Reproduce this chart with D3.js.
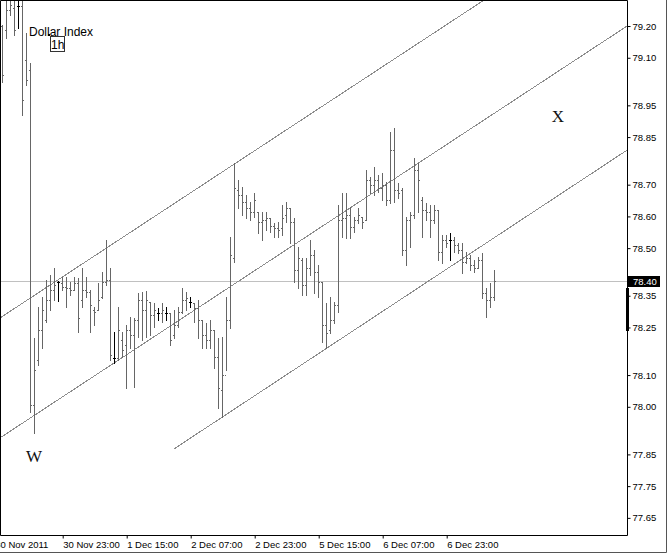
<!DOCTYPE html>
<html><head><meta charset="utf-8">
<script src="https://cdn.jsdelivr.net/npm/d3@7"></script>
<style>body{margin:0;background:#fff;overflow:hidden}svg{display:block}</style>
</head><body><svg id="c" width="668" height="554"></svg>
<script>
// Dollar Index, 1h OHLC bars (index 0 = 30 Nov 2011 08:00)
const openP = [79.200,79.187,79.250,79.257,79.263,79.263,79.093,79.061,78.006,78.148,
78.242,78.274,78.337,78.368,78.393,78.390,78.378,78.375,78.368,78.390,
78.337,78.368,78.362,78.305,78.305,78.346,78.393,78.400,78.154,78.154,
78.211,78.195,78.242,78.226,78.274,78.337,78.305,78.330,78.289,78.296,
78.296,78.296,78.296,78.226,78.258,78.299,78.337,78.330,78.327,78.311,
78.274,78.226,78.211,78.242,78.157,78.053,78.100,78.274,78.469,78.683,
78.668,78.645,78.627,78.614,78.614,78.582,78.589,78.595,78.570,78.564,
78.564,78.605,78.627,78.582,78.431,78.463,78.384,78.438,78.478,78.425,
78.393,78.258,78.242,78.274,78.321,78.589,78.595,78.605,78.567,78.589,
78.598,78.589,78.715,78.699,78.715,78.690,78.699,78.652,78.809,78.683,
78.683,78.494,78.589,78.605,78.746,78.652,78.620,78.614,78.589,78.620,
78.488,78.526,78.526,78.526,78.510,78.494,78.456,78.469,78.447,78.438,
78.463,78.359,78.337,78.346];
const highP = [79.203,79.314,79.329,79.314,79.298,79.298,79.178,79.083,78.217,78.315,
78.346,78.400,78.415,78.438,78.397,78.409,78.409,78.393,78.409,78.406,
78.438,78.409,78.368,78.315,78.390,78.425,78.526,78.438,78.236,78.315,
78.236,78.258,78.283,78.280,78.359,78.362,78.365,78.330,78.327,78.311,
78.327,78.315,78.296,78.305,78.315,78.375,78.362,78.346,78.327,78.337,
78.274,78.264,78.274,78.242,78.217,78.220,78.346,78.535,78.768,78.715,
78.693,78.668,78.645,78.674,78.614,78.614,78.614,78.595,78.579,78.582,
78.636,78.645,78.627,78.595,78.504,78.469,78.469,78.526,78.494,78.447,
78.393,78.327,78.346,78.330,78.636,78.674,78.674,78.630,78.598,78.627,
78.598,78.746,78.724,78.756,78.731,78.737,78.709,78.866,78.879,78.705,
78.690,78.598,78.614,78.784,78.768,78.661,78.642,78.636,78.636,78.620,
78.542,78.542,78.548,78.535,78.516,78.516,78.488,78.478,78.463,78.472,
78.485,78.375,78.390,78.431];
const lowP = [79.024,79.162,79.235,79.172,79.194,78.920,79.014,77.984,77.918,78.132,
78.185,78.267,78.305,78.337,78.334,78.368,78.315,78.352,78.368,78.236,
78.315,78.346,78.236,78.258,78.305,78.343,78.384,78.148,78.138,78.148,
78.157,78.059,78.185,78.063,78.220,78.211,78.220,78.226,78.252,78.274,
78.267,78.274,78.195,78.217,78.252,78.296,78.305,78.315,78.267,78.217,
78.185,78.185,78.185,78.122,77.996,77.968,78.116,78.248,78.456,78.627,
78.605,78.595,78.589,78.598,78.548,78.526,78.557,78.551,78.535,78.535,
78.542,78.582,78.516,78.393,78.375,78.352,78.352,78.415,78.359,78.346,
78.204,78.185,78.233,78.264,78.299,78.535,78.532,78.532,78.551,78.579,
78.564,78.589,78.674,78.668,78.677,78.652,78.636,78.642,78.645,78.658,
78.478,78.447,78.504,78.595,78.614,78.535,78.589,78.535,78.579,78.463,
78.453,78.504,78.463,78.488,78.485,78.422,78.453,78.431,78.425,78.438,
78.343,78.283,78.315,78.337];
const closeP = [79.046,79.250,79.266,79.187,79.263,78.967,79.030,78.006,78.116,78.242,
78.305,78.337,78.368,78.384,78.393,78.378,78.375,78.368,78.390,78.280,
78.368,78.362,78.321,78.299,78.337,78.393,78.400,78.163,78.154,78.242,
78.179,78.242,78.226,78.274,78.337,78.305,78.337,78.289,78.305,78.296,
78.305,78.296,78.211,78.258,78.299,78.337,78.343,78.330,78.311,78.274,
78.226,78.211,78.242,78.157,78.059,78.100,78.274,78.478,78.690,78.668,
78.645,78.627,78.614,78.652,78.582,78.589,78.595,78.570,78.564,78.557,
78.595,78.627,78.582,78.431,78.469,78.384,78.438,78.478,78.425,78.393,
78.258,78.233,78.274,78.321,78.589,78.595,78.605,78.567,78.589,78.605,
78.582,78.715,78.699,78.715,78.690,78.699,78.652,78.809,78.683,78.674,
78.494,78.589,78.605,78.746,78.715,78.620,78.614,78.589,78.620,78.488,
78.526,78.516,78.526,78.510,78.494,78.456,78.469,78.447,78.438,78.463,
78.359,78.337,78.346,78.397];

const tickIndex = [-2, 15, 31, 47, 63, 79, 95, 111];
const tickLabels = ["30 Nov 2011","30 Nov 23:00","1 Dec 15:00","2 Dec 07:00","2 Dec 23:00","5 Dec 15:00","6 Dec 07:00","6 Dec 23:00"];
const priceTicks = [79.20,79.10,78.95,78.85,78.70,78.60,78.50,78.35,78.25,78.10,78.00,77.85,77.75,77.65];
const lastPrice = 78.397;
const markerRange = [78.375, 78.239];
// channel lines: [startIndex, startPrice, endIndex, endPrice]
const channelStart = [[-0.675, 78.280], [-0.675, 77.902], [42.8, 77.867]];
const channelEnd = [[156.1, 79.578], [156.1, 79.200], [156.1, 78.809]];
const waveText = ["W", "X"];
const waveIndex = [7.8, 138.8];
const wavePrice = [77.826, 78.898];
</script>
<script>
const W = 668, H = 554;
const plotR = 627, plotB = 535;
const svg = d3.select("#c");
const x = d3.scaleLinear().domain([0, 123]).range([2.7, 494.7]);
const y = d3.scaleLinear().domain([77.596, 79.282]).range([plotB, 0]);
const font = "'Liberation Sans', Arial, sans-serif";

svg.append("rect").attr("width", W).attr("height", H).attr("fill", "#fff");
svg.append("defs").append("clipPath").attr("id", "pc")
  .append("rect").attr("x", 1).attr("y", 1).attr("width", plotR - 1).attr("height", plotB - 1);

const plot = svg.append("g").attr("clip-path", "url(#pc)");

// last price line
const ly = Math.round(y(lastPrice)) + 0.5;
plot.append("line").attr("x1", 0).attr("x2", plotR).attr("y1", ly).attr("y2", ly)
  .attr("stroke", "#c0c0c0").attr("stroke-width", 1);

// channel lines
channelStart.forEach((s, k) => {
  const e = channelEnd[k];
  plot.append("line")
    .attr("x1", x(s[0])).attr("y1", y(s[1]))
    .attr("x2", x(e[0])).attr("y2", y(e[1]))
    .attr("stroke", "#8c8c8c").attr("stroke-width", 1)
    .attr("shape-rendering", "crispEdges");
});

// OHLC bars
const bars = plot.append("g").attr("shape-rendering", "crispEdges");
openP.forEach((o, i) => {
  const c = closeP[i];
  const col = (o === c) ? "#000" : "#666";
  const bx = Math.floor(x(i));
  const yh = Math.round(y(highP[i])), yl = Math.round(y(lowP[i]));
  bars.append("rect").attr("x", bx).attr("y", yh).attr("width", 1).attr("height", Math.max(1, yl - yh + 1)).attr("fill", col);
  bars.append("rect").attr("x", bx - 1).attr("y", Math.round(y(o))).attr("width", 1).attr("height", 1).attr("fill", col);
  bars.append("rect").attr("x", bx + 1).attr("y", Math.round(y(c))).attr("width", 1).attr("height", 1).attr("fill", col);
});

// wave labels
waveText.forEach((t, k) => {
  plot.append("text").attr("x", x(waveIndex[k])).attr("y", y(wavePrice[k]))
    .attr("text-anchor", "middle").attr("font-family", "'Liberation Serif','Times New Roman',serif")
    .attr("font-size", 17).attr("fill", "#111").text(t);
});

// title
svg.append("text").attr("x", 29).attr("y", 36).attr("font-family", font).attr("font-size", 12)
  .attr("fill", "#000").text("Dollar Index");
svg.append("rect").attr("x", 48).attr("y", 34).attr("width", 2).attr("height", 2).attr("fill", "#000");
svg.append("rect").attr("x", 50.5).attr("y", 36.5).attr("width", 14).attr("height", 15)
  .attr("fill", "none").attr("stroke", "#333");
svg.append("text").attr("x", 51).attr("y", 49).attr("font-family", font).attr("font-size", 12)
  .attr("fill", "#000").text("1h");

// plot frame
svg.append("path").attr("d", `M0.5,${plotB + 0.5}V0.5H${plotR + 0.5}V${plotB + 0.5}H0.5`)
  .attr("fill", "none").attr("stroke", "#000").attr("stroke-width", 1);
// window frame
svg.append("path").attr("d", `M0,${H - 1.5}H${W - 1.5}V0`).attr("fill", "none").attr("stroke", "#555").attr("stroke-width", 1);

// y axis
const yAxis = d3.axisRight(y).tickValues(priceTicks).tickSize(3).tickPadding(2).tickFormat(d3.format(".2f"));
const ya = svg.append("g").attr("transform", `translate(${plotR + 0.5},0)`).call(yAxis);
ya.select(".domain").remove();
ya.selectAll("line").attr("stroke", "#000");
ya.selectAll("text").attr("font-family", font).attr("font-size", 9.5).attr("fill", "#000");

// last price label
svg.append("rect").attr("x", 628).attr("y", Math.round(y(lastPrice)) - 5).attr("width", 32).attr("height", 11).attr("fill", "#000");
svg.append("text").attr("x", 633).attr("y", Math.round(y(lastPrice)) + 4).attr("font-family", font)
  .attr("font-size", 9.5).attr("fill", "#fff").text(d3.format(".2f")(lastPrice));
svg.append("rect").attr("x", 626).attr("y", Math.round(y(markerRange[0]))).attr("width", 3)
  .attr("height", Math.round(y(markerRange[1]) - y(markerRange[0]))).attr("fill", "#000");

// x axis
const xAxis = d3.axisBottom(x).tickValues(tickIndex).tickSize(3).tickPadding(3)
  .tickFormat((d, k) => tickLabels[k]);
const xa = svg.append("g").attr("transform", `translate(0,${plotB + 0.5})`).call(xAxis);
xa.select(".domain").remove();
xa.selectAll("line").attr("stroke", "#000");
xa.selectAll("text").attr("font-family", font).attr("font-size", 9.5).attr("fill", "#000")
  .attr("text-anchor", "start").attr("dx", "0").attr("dy", "0.71em");
</script>
</body></html>
